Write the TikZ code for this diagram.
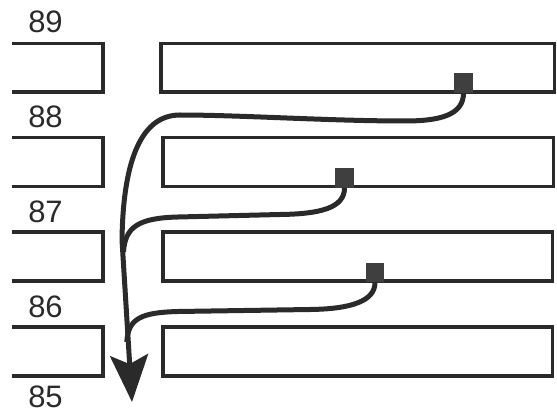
\documentclass[tikz,border=0pt]{standalone}
\usepackage{fontspec}
\setmainfont{Liberation Sans}
\usetikzlibrary{arrows.meta}
\definecolor{ink}{HTML}{2A2A2A}
\begin{document}
\begin{tikzpicture}[x=1pt,y=-1pt,
  blockline/.style={draw=ink,line width=3.6pt},
  route/.style={draw=ink,line width=5pt},
  marker/.style={fill=ink!90,draw=none,minimum width=18.5pt,minimum height=19.5pt,inner sep=0pt},
  lbl/.style={font=\fontsize{31}{31}\selectfont,text=ink,anchor=base,inner sep=0pt}]
\useasboundingbox (0,0) rectangle (557,414);
% labels
\node[lbl] (l89) at (45.5,33) {89};
\node[lbl] (l88) at (45.5,128) {88};
\node[lbl] (l87) at (45.5,223) {87};
\node[lbl] (l86) at (45.5,317) {86};
\node[lbl] (l85) at (45.5,407) {85};
% left blocks (open on the left)
\draw[blockline] (12,43.5) -- (103,43.5) -- (103,92) -- (12,92);
\draw[blockline] (12,137.5) -- (103,137.5) -- (103,186.5) -- (12,186.5);
\draw[blockline] (12,232) -- (103,232) -- (103,281) -- (12,281);
\draw[blockline] (12,327) -- (103,327) -- (103,376) -- (12,376);
% right blocks
\draw[blockline] (161,43.5) rectangle (554.5,92);
\draw[blockline] (163,137.5) rectangle (553.5,186.5);
\draw[blockline] (163,232) rectangle (552.5,281);
\draw[blockline] (163,327) rectangle (552.5,376);
% markers
\node[marker,anchor=south] (m1) at (463.5,93) {};
\node[marker,anchor=south] (m2) at (344.5,188) {};
\node[marker,anchor=south] (m3) at (375,282.5) {};
\coordinate (tip) at (132,402);
% routes
\draw[route,-{Stealth[length=47pt,width=38pt,inset=9pt]}]
  (m1.south) .. controls +(0,22) and (440,121) .. (405,121)
  .. controls (330,121) and (240,115) .. (180,115)
  .. controls (138,115) and (123,168) .. (122,240) -- (tip);
\draw[route]
  (m2.south) .. controls +(0,20) and (320,214) .. (280,214.5)
  -- (178,217) .. controls (140,218) and (125,226) .. (123.5,252);
\draw[route]
  (m3.south) .. controls +(0,19) and (350,309) .. (310,309.5)
  -- (178,311.5) .. controls (142,312.5) and (128,318) .. (126.8,342);
\end{tikzpicture}
\end{document}
